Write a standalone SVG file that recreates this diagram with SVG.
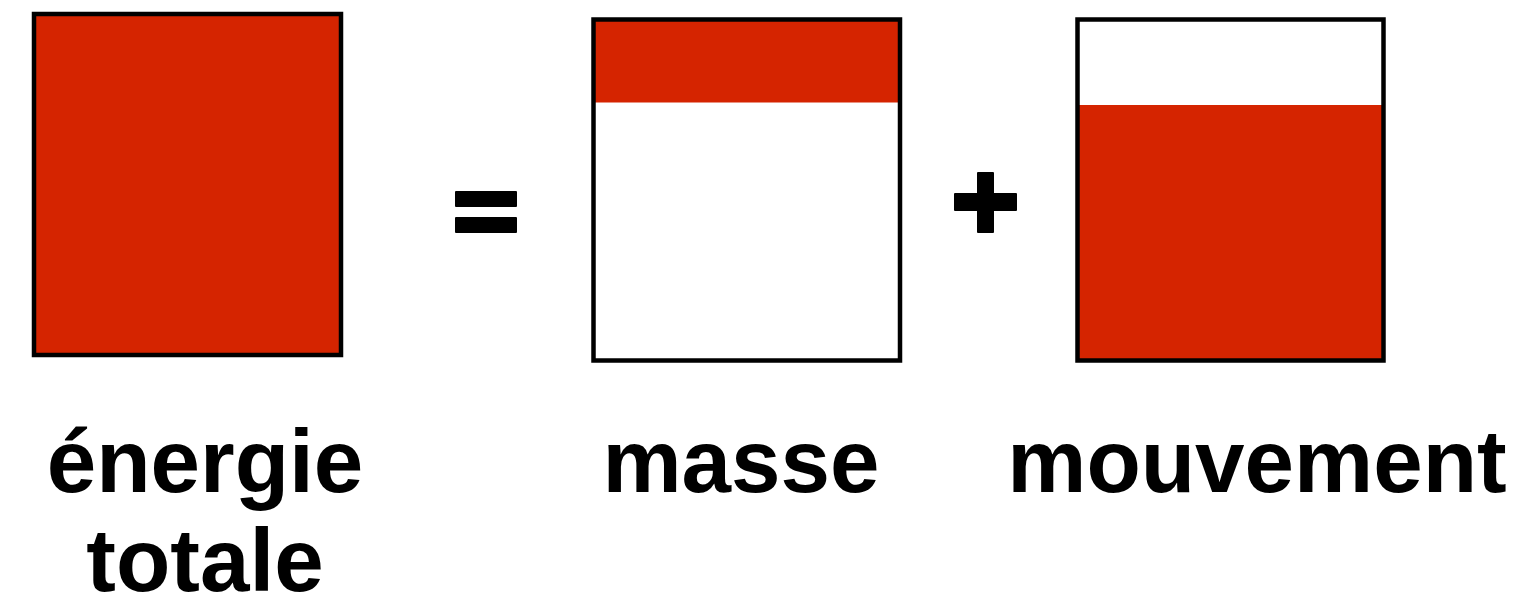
<svg xmlns="http://www.w3.org/2000/svg" width="1522" height="603" viewBox="0 0 1522 603">
  <style>
    .frame { fill: none; stroke: #000; stroke-width: 4.5; }
    .red { fill: #D52400; }
    .label { font-family: "Liberation Sans", Arial, sans-serif; font-weight: bold; font-size: 89px; fill: #000; text-anchor: middle; }
    .sym { fill: #000; }
  </style>
  <rect width="1522" height="603" fill="#fff"/>
  <g id="energie-totale">
    <rect class="red" x="34" y="14" width="307" height="341"/>
    <rect class="frame" x="34" y="14" width="307" height="341"/>
    <text class="label" x="205" y="492">énergie</text>
    <text class="label" x="205" y="591">totale</text>
  </g>
  <g id="egal">
    <rect class="sym" x="455" y="191" width="62" height="16" rx="1"/>
    <rect class="sym" x="455" y="217" width="62" height="16" rx="1"/>
  </g>
  <g id="masse">
    <rect fill="#fff" x="593.5" y="19.5" width="306.5" height="341"/>
    <rect class="red" x="593.5" y="19.5" width="306.5" height="83"/>
    <rect class="frame" x="593.5" y="19.5" width="306.5" height="341"/>
    <text class="label" x="741" y="492">masse</text>
  </g>
  <g id="plus">
    <rect class="sym" x="954" y="193" width="63" height="18" rx="1"/>
    <rect class="sym" x="977" y="172" width="17" height="61" rx="1"/>
  </g>
  <g id="mouvement">
    <rect fill="#fff" x="1077.5" y="19.5" width="306" height="341"/>
    <rect class="red" x="1077.5" y="105" width="306" height="255.5"/>
    <rect class="frame" x="1077.5" y="19.5" width="306" height="341"/>
    <text class="label" x="1257" y="492">mouvement</text>
  </g>
  <g id="connectors"></g>
</svg>
